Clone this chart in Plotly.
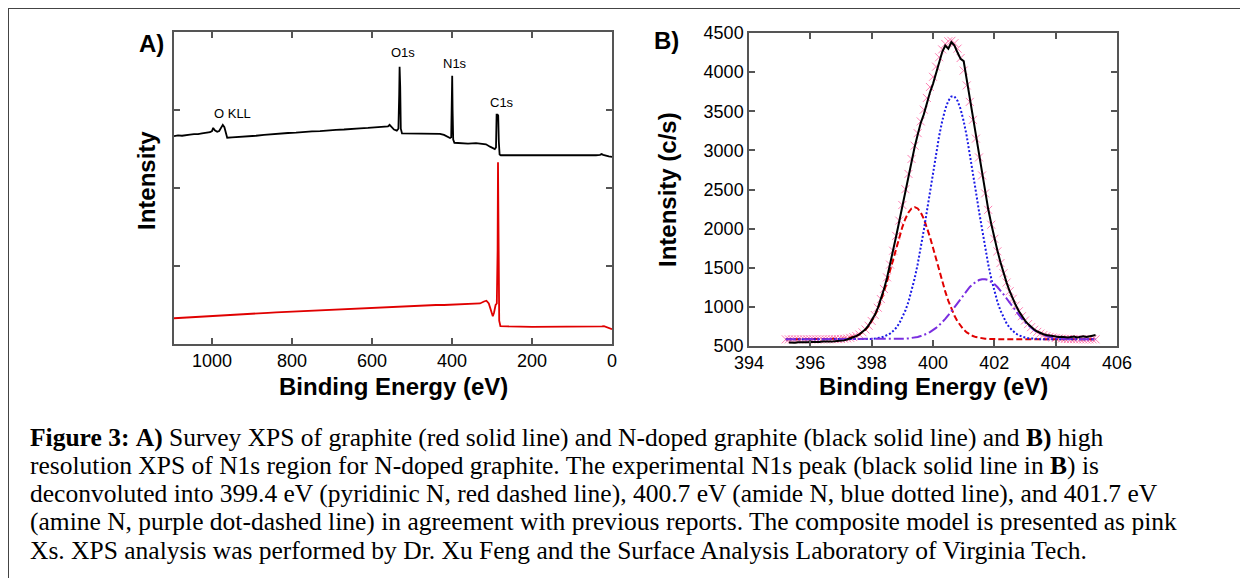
import plotly.graph_objects as go

W, H = 1248, 578
OFF = 8  # the page body margin shifts the figure by this many pixels

# ---------------- Panel A: survey spectra (arbitrary intensity units) ----------------
survey_be_ndoped = [1095, 1085, 1075, 1065, 1055, 1045, 1035, 1025, 1015, 1005, 1000, 997, 993, 987, 982,
                    977, 973, 969, 965, 962, 950, 930, 910, 890, 870, 850, 830, 810, 790, 770, 750, 730,
                    710, 690, 670, 650, 630, 610, 590, 570, 560, 556, 552, 545, 538, 534, 532, 531, 529.5,
                    528, 525, 510, 490, 470, 450, 430, 420, 412, 405, 402, 400.5, 399.5, 398.5, 397, 394,
                    380, 360, 340, 325, 315, 305, 298, 293, 290, 288.5, 286, 284.5, 283, 281, 278, 260,
                    240, 220, 200, 180, 160, 140, 120, 100, 80, 60, 40, 30, 26, 22, 15, 8, 0]
survey_int_ndoped = [2.665, 2.675, 2.67, 2.68, 2.685, 2.69, 2.69, 2.70, 2.705, 2.715, 2.73, 2.77, 2.74, 2.72, 2.73,
                     2.78, 2.81, 2.78, 2.68, 2.645, 2.65, 2.655, 2.665, 2.67, 2.68, 2.69, 2.695, 2.705, 2.71, 2.72, 2.725, 2.73,
                     2.74, 2.745, 2.75, 2.76, 2.765, 2.77, 2.78, 2.785, 2.79, 2.81, 2.79, 2.75, 2.735, 2.76, 3.20, 3.555, 3.30,
                     2.76, 2.70, 2.70, 2.695, 2.70, 2.695, 2.695, 2.68, 2.66, 2.64, 2.65, 3.10, 3.44, 3.00, 2.62, 2.58,
                     2.575, 2.57, 2.575, 2.57, 2.56, 2.53, 2.51, 2.50, 2.52, 2.94, 2.94, 2.93, 2.60, 2.43, 2.42, 2.42,
                     2.415, 2.42, 2.415, 2.42, 2.415, 2.42, 2.415, 2.42, 2.415, 2.42, 2.42, 2.425, 2.435, 2.425, 2.41, 2.405, 2.40]

survey_be_graphite = [1095, 1080, 1060, 1040, 1020, 1000, 980, 960, 940, 920, 900, 880, 860, 840, 820, 800,
                      780, 760, 740, 720, 700, 680, 660, 640, 620, 600, 580, 560, 540, 520, 500, 480, 460,
                      440, 420, 400, 380, 360, 345, 330, 320, 314, 308, 302, 298, 295, 291, 288, 286, 285,
                      284, 282, 279, 260, 200, 150, 100, 50, 25, 20, 15, 5, 0]
survey_int_graphite = [0.33, 0.335, 0.34, 0.345, 0.35, 0.36, 0.365, 0.37, 0.375, 0.38, 0.39, 0.395, 0.40, 0.405, 0.41, 0.415,
                       0.42, 0.425, 0.43, 0.435, 0.44, 0.445, 0.45, 0.455, 0.46, 0.465, 0.47, 0.475, 0.48, 0.485, 0.49, 0.49, 0.495,
                       0.50, 0.50, 0.505, 0.51, 0.51, 0.515, 0.52, 0.545, 0.555, 0.52, 0.42, 0.355, 0.40, 0.50, 0.52, 1.20, 2.33,
                       1.50, 0.30, 0.23, 0.225, 0.22, 0.22, 0.22, 0.22, 0.225, 0.23, 0.22, 0.20, 0.19]

peak_labels = ["O KLL", "O1s", "N1s", "C1s"]
tickvals_a = [1000, 800, 600, 400, 200, 0]

# ---------------- Panel B: N1s high resolution ----------------
be_fit = [395.2, 395.3, 395.4, 395.5, 395.6, 395.7, 395.8, 395.9, 396.0, 396.1, 396.2, 396.3, 396.4, 396.5,
          396.6, 396.7, 396.8, 396.9, 397.0, 397.1, 397.2, 397.3, 397.4, 397.5, 397.6, 397.7, 397.8, 397.9,
          398.0, 398.1, 398.2, 398.3, 398.4, 398.5, 398.6, 398.7, 398.8, 398.9, 399.0, 399.1, 399.2, 399.3,
          399.4, 399.5, 399.6, 399.7, 399.8, 399.9, 400.0, 400.1, 400.2, 400.3, 400.4, 400.5, 400.6, 400.7,
          400.8, 400.9, 401.0, 401.1, 401.2, 401.3, 401.4, 401.5, 401.6, 401.7, 401.8, 401.9, 402.0, 402.1,
          402.2, 402.3, 402.4, 402.5, 402.6, 402.7, 402.8, 402.9, 403.0, 403.1, 403.2, 403.3, 403.4, 403.5,
          403.6, 403.7, 403.8, 403.9, 404.0, 404.1, 404.2, 404.3, 404.4, 404.5, 404.6, 404.7, 404.8, 404.9,
          405.0, 405.1, 405.2, 405.3]

composite = [585, 585, 585, 585, 585, 585, 585, 585, 585, 585, 585, 585, 585, 585,
             586, 586, 587, 588, 590, 593, 597, 604, 614, 627, 647, 675, 711, 759,
             820, 896, 989, 1100, 1229, 1377, 1540, 1718, 1907, 2102, 2302, 2504, 2699, 2890,
             3060, 3220, 3370, 3520, 3670, 3810, 3940, 4070, 4190, 4290, 4360, 4395, 4400, 4370,
             4300, 4180, 4020, 3830, 3620, 3390, 3150, 2910, 2680, 2450, 2240, 2050, 1870, 1710,
             1560, 1430, 1311, 1200, 1103, 1018, 944, 881, 826, 780, 741, 708, 681, 659,
             641, 627, 616, 608, 602, 597, 594, 591, 589, 588, 587, 586, 586, 585,
             585, 585, 585, 585]

pyridinic = [585, 585, 585, 585, 585, 585, 585, 585, 585, 585, 585, 585, 585, 585,
             586, 586, 587, 588, 590, 593, 597, 604, 614, 627, 647, 674, 709, 755,
             814, 886, 974, 1077, 1194, 1325, 1465, 1610, 1756, 1894, 2020, 2127, 2207, 2258,
             2275, 2258, 2207, 2127, 2020, 1894, 1756, 1610, 1465, 1325, 1194, 1077, 974, 886,
             814, 755, 709, 674, 647, 627, 614, 604, 597, 593, 590, 588, 587, 586,
             586, 585, 585, 585, 585, 585, 585, 585, 585, 585, 585, 585, 585, 585,
             585, 585, 585, 585, 585, 585, 585, 585, 585, 585, 585, 585, 585, 585,
             585, 585, 585, 585]

amide = [585, 585, 585, 585, 585, 585, 585, 585, 585, 585, 585, 585, 585, 585,
         585, 585, 585, 585, 585, 585, 585, 585, 585, 585, 586, 586, 587, 589,
         591, 595, 600, 608, 620, 636, 659, 691, 733, 789, 861, 953, 1065, 1200,
         1361, 1545, 1752, 1979, 2221, 2471, 2721, 2962, 3183, 3374, 3527, 3633, 3688, 3688,
         3633, 3527, 3374, 3183, 2962, 2721, 2471, 2221, 1979, 1752, 1545, 1361, 1200, 1065,
         953, 861, 789, 733, 691, 659, 636, 620, 608, 600, 595, 591, 589, 587,
         586, 586, 585, 585, 585, 585, 585, 585, 585, 585, 585, 585, 585, 585,
         585, 585, 585, 585]

amine = [585, 585, 585, 585, 585, 585, 585, 585, 585, 585, 585, 585, 585, 585,
         585, 585, 585, 585, 585, 585, 585, 585, 585, 585, 585, 585, 585, 585,
         585, 585, 585, 585, 585, 585, 586, 587, 588, 589, 591, 594, 597, 602,
         608, 616, 627, 640, 657, 677, 702, 731, 765, 803, 846, 893, 944, 997,
         1052, 1107, 1160, 1210, 1254, 1292, 1322, 1343, 1354, 1354, 1343, 1322, 1292, 1254,
         1210, 1160, 1107, 1052, 997, 944, 893, 846, 803, 765, 731, 702, 677, 657,
         640, 627, 616, 608, 602, 597, 594, 591, 589, 588, 587, 586, 585, 585,
         585, 585, 585, 585]

be_exp = be_fit[1:]
experimental = [545, 540, 542, 548, 545, 550, 547, 552, 549, 553, 551, 556, 553,
                558, 556, 560, 562, 566, 572, 583, 597, 612, 628, 650, 678, 714, 762,
                822, 895, 985, 1095, 1225, 1370, 1535, 1712, 1905, 2095, 2290, 2500, 2690, 2880,
                3040, 3200, 3350, 3460, 3620, 3740, 3850, 3990, 4130, 4256, 4340, 4300, 4385, 4340,
                4250, 4170, 4140, 3900, 3660, 3440, 3200, 2950, 2720, 2500, 2250, 2060, 1880, 1720,
                1570, 1430, 1310, 1200, 1105, 1020, 945, 880, 825, 780, 740, 710, 685, 665,
                650, 640, 632, 625, 620, 616, 618, 612, 608, 615, 622, 610, 618, 625,
                615, 628, 632, 640]

caption_lines = [
    "<b>Figure 3:</b> <b>A)</b> Survey XPS of graphite (red solid line) and N-doped graphite (black solid line) and <b>B)</b> high",
    "resolution XPS of N1s region for N-doped graphite. The experimental N1s peak (black solid line in <b>B</b>) is",
    "deconvoluted into 399.4 eV (pyridinic N, red dashed line), 400.7 eV (amide N, blue dotted line), and 401.7 eV",
    "(amine N, purple dot-dashed line) in agreement with previous reports. The composite model is presented as pink",
    "Xs. XPS analysis was performed by Dr. Xu Feng and the Surface Analysis Laboratory of Virginia Tech.",
]


def px(x):
    return (x - OFF) / W


def py(y):
    return 1 - (y - OFF) / H


SANS = "Liberation Sans, Arial, sans-serif"
SERIF = "Liberation Serif, Times New Roman, serif"
AXC = "#555555"

fig = go.Figure()

# Panel A traces
fig.add_trace(go.Scatter(x=survey_be_graphite, y=survey_int_graphite, mode="lines",
                         line=dict(color="#e00000", width=1.8), xaxis="x", yaxis="y",
                         showlegend=False))
fig.add_trace(go.Scatter(x=survey_be_ndoped, y=survey_int_ndoped, mode="lines",
                         line=dict(color="black", width=1.8), xaxis="x", yaxis="y",
                         showlegend=False))

# Panel B traces
fig.add_trace(go.Scatter(x=be_fit, y=composite, mode="markers",
                         marker=dict(symbol="x-thin", size=8, color="#ff80b4",
                                     line=dict(color="#ff80b4", width=1)),
                         xaxis="x2", yaxis="y2", showlegend=False))
fig.add_trace(go.Scatter(x=be_fit, y=pyridinic, mode="lines",
                         line=dict(color="#e00000", width=2, dash="6px,3px"),
                         xaxis="x2", yaxis="y2", showlegend=False))
fig.add_trace(go.Scatter(x=be_fit, y=amide, mode="lines",
                         line=dict(color="#1a1ae6", width=2, dash="2px,2px"),
                         xaxis="x2", yaxis="y2", showlegend=False))
fig.add_trace(go.Scatter(x=be_fit, y=amine, mode="lines",
                         line=dict(color="#7a2ee0", width=2, dash="10px,3px,2px,3px"),
                         xaxis="x2", yaxis="y2", showlegend=False))
fig.add_trace(go.Scatter(x=be_exp, y=experimental, mode="lines",
                         line=dict(color="black", width=2),
                         xaxis="x2", yaxis="y2", showlegend=False))

axis_common = dict(showline=True, linecolor=AXC, linewidth=1.5, mirror="ticks",
                   ticks="inside", ticklen=6, tickcolor=AXC, tickwidth=1.5,
                   showgrid=False, zeroline=False, automargin=False,
                   tickfont=dict(family=SANS, size=18, color="black"))

fig.update_layout(
    template="none",
    width=W, height=H,
    margin=dict(l=0, r=0, t=0, b=0, pad=0, autoexpand=False),
    paper_bgcolor="white", plot_bgcolor="white",
    xaxis=dict(domain=[px(174), px(612)], range=[1095, 0], tickvals=tickvals_a,
               anchor="y", **axis_common),
    yaxis=dict(domain=[py(344), py(32)], range=[0, 4], tickvals=[1, 2, 3],
               showticklabels=False, anchor="x", **axis_common),
    xaxis2=dict(domain=[px(749), px(1117)], range=[394, 406], dtick=2, tick0=394,
                anchor="y2", **axis_common),
    yaxis2=dict(domain=[py(346), py(33)], range=[500, 4500], dtick=500, tick0=500,
                anchor="x2", **axis_common),
)

ann = []
# peak labels panel A
for lab, (ax_, ay_) in zip(peak_labels, [(232, 113), (403, 53), (455, 63), (502, 102)]):
    ann.append(dict(text=lab, x=px(ax_), y=py(ay_), xref="paper", yref="paper",
                    showarrow=False, font=dict(family=SANS, size=13, color="black"),
                    xanchor="center", yanchor="middle"))
# panel letters
ann.append(dict(text="<b>A)</b>", x=px(151), y=py(43), xref="paper", yref="paper", showarrow=False,
                font=dict(family=SANS, size=24, color="black"), xanchor="center", yanchor="middle"))
ann.append(dict(text="<b>B)</b>", x=px(666), y=py(41), xref="paper", yref="paper", showarrow=False,
                font=dict(family=SANS, size=24, color="black"), xanchor="center", yanchor="middle"))
# axis titles
ann.append(dict(text="<b>Binding Energy (eV)</b>", x=px(393), y=py(386), xref="paper", yref="paper",
                showarrow=False, font=dict(family=SANS, size=24, color="black"),
                xanchor="center", yanchor="middle"))
ann.append(dict(text="<b>Binding Energy (eV)</b>", x=px(933), y=py(386), xref="paper", yref="paper",
                showarrow=False, font=dict(family=SANS, size=24, color="black"),
                xanchor="center", yanchor="middle"))
ann.append(dict(text="<b>Intensity</b>", x=px(146), y=py(181), xref="paper", yref="paper",
                showarrow=False, textangle=-90, font=dict(family=SANS, size=24, color="black"),
                xanchor="center", yanchor="middle"))
ann.append(dict(text="<b>Intensity (c/s)</b>", x=px(668), y=py(190), xref="paper", yref="paper",
                showarrow=False, textangle=-90, font=dict(family=SANS, size=24, color="black"),
                xanchor="center", yanchor="middle"))
# caption
for i, line in enumerate(caption_lines):
    ann.append(dict(text=line, x=px(28), y=py(437 + 28.3 * i), xref="paper", yref="paper",
                    showarrow=False, font=dict(family=SERIF, size=25.5, color="black"),
                    xanchor="left", yanchor="middle", align="left"))

fig.update_layout(annotations=ann)

# outer frame (figure box)
fig.add_shape(type="line", xref="paper", yref="paper", x0=px(8), y0=py(8), x1=1, y1=py(8),
              line=dict(color="#444444", width=2))
fig.add_shape(type="line", xref="paper", yref="paper", x0=px(8), y0=py(8), x1=px(8), y1=0,
              line=dict(color="#444444", width=2))

fig.write_html("out.html")
